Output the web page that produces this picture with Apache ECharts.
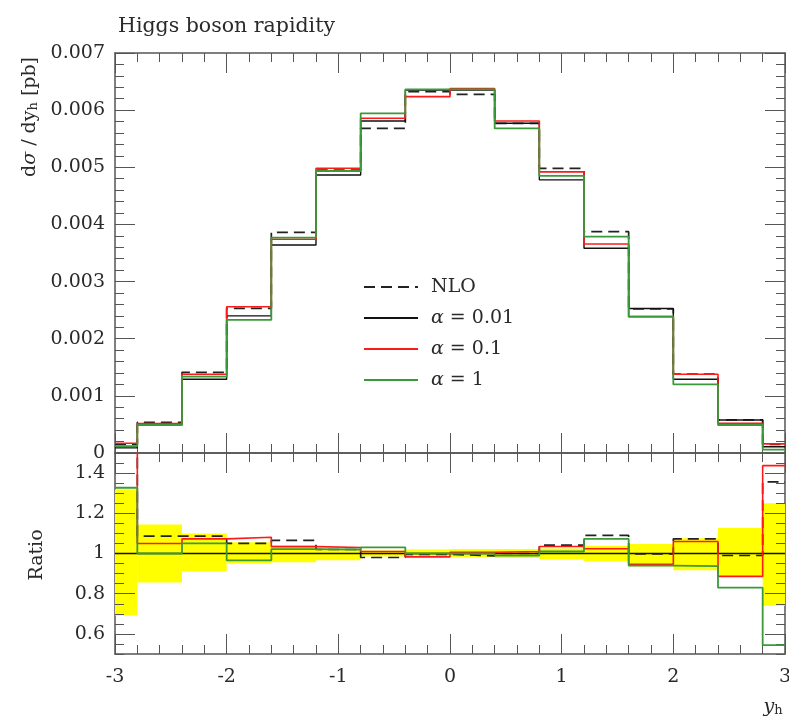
<!DOCTYPE html>
<html>
<head>
<meta charset="utf-8">
<script src="https://cdn.jsdelivr.net/npm/echarts@6/dist/echarts.min.js"></script>
<style>
html,body{margin:0;padding:0;background:#fff;}
#chart{width:789px;height:717px;}
</style>
</head>
<body>
<div id="chart"></div>
<script>
// ---- data ----
const binEdges = [-3, -2.8, -2.4, -2.0, -1.6, -1.2, -0.8, -0.4, 0, 0.4, 0.8, 1.2, 1.6, 2.0, 2.4, 2.8, 3];
const xTickLabels = [-3, -2, -1, 0, 1, 2, 3];

const nloXs   = [0.00015, 0.000537, 0.001412, 0.002532, 0.003862, 0.00495, 0.005682, 0.006323, 0.006277, 0.00577, 0.00498, 0.003873, 0.00252, 0.00138, 0.00058, 0.00015];
const a001Xs  = [0.00009, 0.00049, 0.00129, 0.0024, 0.00364, 0.004865, 0.00581, 0.00635, 0.00635, 0.00577, 0.00478, 0.003582, 0.00253, 0.00129, 0.000577, 0.00011];
const a01Xs   = [0.00017, 0.000515, 0.001377, 0.00256, 0.00374, 0.004982, 0.005857, 0.006236, 0.00638, 0.00581, 0.00492, 0.003657, 0.002386, 0.001377, 0.00052, 0.00016];
const a1Xs    = [0.00012, 0.00049, 0.001336, 0.002328, 0.00377, 0.004935, 0.005945, 0.006365, 0.006365, 0.00568, 0.00485, 0.003786, 0.002386, 0.0012, 0.00049, 0.00006];

const nloRatio  = [1.62, 1.086, 1.087, 1.05, 1.065, 1.02, 0.98, 0.996, 0.988, 1.0, 1.042, 1.09, 0.998, 1.073, 0.99, 1.356];
const a001Ratio = [1, 1, 1, 1, 1, 1, 1, 1, 1, 1, 1, 1, 1, 1, 1, 1];
const a01Ratio  = [1.9, 1.05, 1.073, 1.081, 1.034, 1.03, 1.01, 0.983, 1.006, 1.01, 1.035, 1.024, 0.946, 1.06, 0.886, 1.437];
const a1Ratio   = [1.327, 1.0, 1.05, 0.966, 1.022, 1.02, 1.03, 1.0, 1.0, 0.99, 1.01, 1.073, 0.94, 0.937, 0.83, 0.544];

const bandLow  = [0.691, 0.856, 0.91, 0.95, 0.957, 0.967, 0.985, 0.985, 0.982, 0.978, 0.97, 0.962, 0.937, 0.917, 0.886, 0.74];
const bandHigh = [1.318, 1.144, 1.10, 1.056, 1.042, 1.022, 1.015, 1.02, 1.022, 1.022, 1.025, 1.039, 1.047, 1.076, 1.127, 1.25];

const ratioTicks = [0.6, 0.8, 1.0, 1.2, 1.4];

// ---- helpers ----
function steps(vals) {
  return binEdges.map((e, i) => [e, vals[Math.min(i, vals.length - 1)]]);
}
const bandData = bandLow.map((lo, i) => [binEdges[i], binEdges[i + 1], lo, bandHigh[i]]);

const FONT = 'DejaVu Serif';
const AXC = '#555';
const TXT = '#2a2a2a';

function xAx(grid, pos, labels) {
  return {
    type: 'value', gridIndex: grid, position: pos, min: -3, max: 3, interval: 1,
    axisLine: {show: true, onZero: false, lineStyle: {color: AXC, width: 1.5}},
    axisTick: {show: true, inside: true, length: 20, lineStyle: {color: AXC, width: 1}},
    minorTick: {show: true, splitNumber: 5, length: 9, lineStyle: {color: AXC, width: 1}},
    splitLine: {show: false},
    axisLabel: labels ? {show: true, margin: 14, fontFamily: FONT, fontSize: 19, color: TXT,
      customValues: xTickLabels} : {show: false}
  };
}
function yUp(pos, labels) {
  return {type: 'value', gridIndex: 0, position: pos, min: 0, max: 0.007, interval: 0.001,
    axisLine: {show: true, onZero: false, lineStyle: {color: AXC, width: 1.5}},
    axisTick: {show: true, inside: true, length: 20, lineStyle: {color: AXC, width: 1}},
    minorTick: {show: true, splitNumber: 5, length: 9, lineStyle: {color: AXC, width: 1}},
    splitLine: {show: false},
    axisLabel: labels ? {margin: 10, fontFamily: FONT, fontSize: 19, color: TXT} : {show: false}};
}
function yLowMinor(pos, labels) {
  return {type: 'value', gridIndex: 1, position: pos, min: 0.5, max: 1.5, interval: 0.05,
    axisLine: {show: true, onZero: false, lineStyle: {color: AXC, width: 1.5}},
    axisTick: {show: true, inside: true, length: 9, lineStyle: {color: AXC, width: 1}},
    splitLine: {show: false},
    axisLabel: labels ? {margin: 10, fontFamily: FONT, fontSize: 19, color: TXT, customValues: ratioTicks} : {show: false}};
}
function yLowMajor(pos) {
  return {type: 'value', gridIndex: 1, position: pos, min: 0.5, max: 1.5,
    axisLine: {show: false, onZero: false},
    axisTick: {show: true, inside: true, length: 20, customValues: ratioTicks, lineStyle: {color: AXC, width: 1}},
    splitLine: {show: false}, axisLabel: {show: false}};
}

const styles = {
  'NLO':      {color: '#222', width: 1.7, type: [11, 6]},
  'α = 0.01': {color: '#111', width: 1.4, type: 'solid'},
  'α = 0.1':  {color: '#ff1a1a', width: 1.6, type: 'solid'},
  'α = 1':    {color: '#3a9a3a', width: 1.8, type: 'solid'}
};
function ser(name, data, xi, yi, z) {
  return {type: 'line', step: 'end', symbol: 'none', clip: true,
    name, data: steps(data), xAxisIndex: xi, yAxisIndex: yi, z: z,
    lineStyle: Object.assign({}, styles[name]), itemStyle: {color: styles[name].color}};
}

const chart = echarts.init(document.getElementById('chart'), null, {renderer: 'canvas'});
chart.setOption({
  animation: false,
  backgroundColor: '#fff',
  title: {
    text: 'Higgs boson rapidity', left: 113, top: 11,
    textStyle: {fontFamily: FONT, fontSize: 20.5, fontWeight: 'normal', color: TXT}
  },
  legend: {
    data: ['NLO', 'α = 0.01', 'α = 0.1', 'α = 1'],
    orient: 'vertical', left: 358, top: 272,
    itemWidth: 54, itemHeight: 14, itemGap: 11,
    itemStyle: {opacity: 0},
    formatter: n => n.replace('α', '{a|α}'),
    textStyle: {fontFamily: FONT, fontSize: 19, color: TXT, padding: [0, 0, 0, 8], lineHeight: 20,
      rich: {a: {fontFamily: FONT, fontStyle: 'italic', fontSize: 19, color: TXT}}}
  },
  grid: [
    {left: 115, right: 4, top: 53, height: 400, outerBoundsMode: 'none', containLabel: false},
    {left: 115, right: 4, top: 453, height: 201, outerBoundsMode: 'none', containLabel: false}
  ],
  xAxis: [xAx(0, 'bottom', false), xAx(0, 'top', false), xAx(1, 'bottom', true), xAx(1, 'top', false)],
  yAxis: [yUp('left', true), yUp('right', false), yLowMinor('left', true), yLowMajor('left'),
          yLowMinor('right', false), yLowMajor('right')],
  graphic: [
    {type: 'text', x: 30, y: 117, rotation: Math.PI / 2,
      style: {text: 'd{s|σ} / dy{b|h} [pb]', fill: TXT, fontFamily: FONT, fontSize: 19,
        align: 'center', verticalAlign: 'middle',
        rich: {s: {fontFamily: FONT, fontStyle: 'italic', fontSize: 19},
               b: {fontFamily: FONT, fontSize: 13, padding: [8, 0, 0, 0]}}}},
    {type: 'text', x: 37, y: 555, rotation: Math.PI / 2,
      style: {text: 'Ratio', fill: TXT, fontFamily: FONT, fontSize: 19, align: 'center', verticalAlign: 'middle'}},
    {type: 'text', x: 773, y: 707,
      style: {text: '{i|y}{b|h}', fill: TXT, fontFamily: FONT, fontSize: 19, align: 'center', verticalAlign: 'middle',
        rich: {i: {fontFamily: FONT, fontStyle: 'italic', fontSize: 19},
               b: {fontFamily: FONT, fontSize: 13, padding: [8, 0, 0, 0]}}}}
  ],
  series: [
    {type: 'custom', name: 'band', xAxisIndex: 2, yAxisIndex: 2, z: 1, silent: true,
      data: bandData, encode: {x: [0, 1], y: [2, 3]},
      renderItem: function (params, api) {
        const p0 = api.coord([api.value(0), api.value(3)]);
        const p1 = api.coord([api.value(1), api.value(2)]);
        return {type: 'rect', shape: {x: p0[0], y: p0[1], width: p1[0] - p0[0], height: p1[1] - p0[1]},
          style: {fill: '#ffff00'}};
      }},
    ser('NLO', nloXs, 0, 0, 3),
    ser('α = 0.01', a001Xs, 0, 0, 4),
    ser('α = 0.1', a01Xs, 0, 0, 5),
    ser('α = 1', a1Xs, 0, 0, 6),
    ser('NLO', nloRatio, 2, 2, 3),
    ser('α = 0.01', a001Ratio, 2, 2, 4),
    ser('α = 0.1', a01Ratio, 2, 2, 5),
    ser('α = 1', a1Ratio, 2, 2, 6)
  ]
});

// Make sure the axis tick marks that ECharts generated are actually painted.
(function showTicks() {
  const zr = chart.getZr();
  const all = zr.storage.getDisplayList(true, true);
  all.forEach(el => {
    if (el.type !== 'line' || !el.shape) return;
    const s = el.shape;
    const len = Math.hypot(s.x2 - s.x1, s.y2 - s.y1);
    if (!(len > 0 && len <= 21)) return;
    el.ignore = false;
    el.invisible = false;
    if (el.removeClipPath) el.removeClipPath();
    el.setStyle({stroke: AXC, lineWidth: 1, opacity: 1, lineDash: null});
    el.z = 2; el.z2 = 50;
    el.markRedraw();
  });
  zr.refreshImmediately();
})();
</script>
</body>
</html>
